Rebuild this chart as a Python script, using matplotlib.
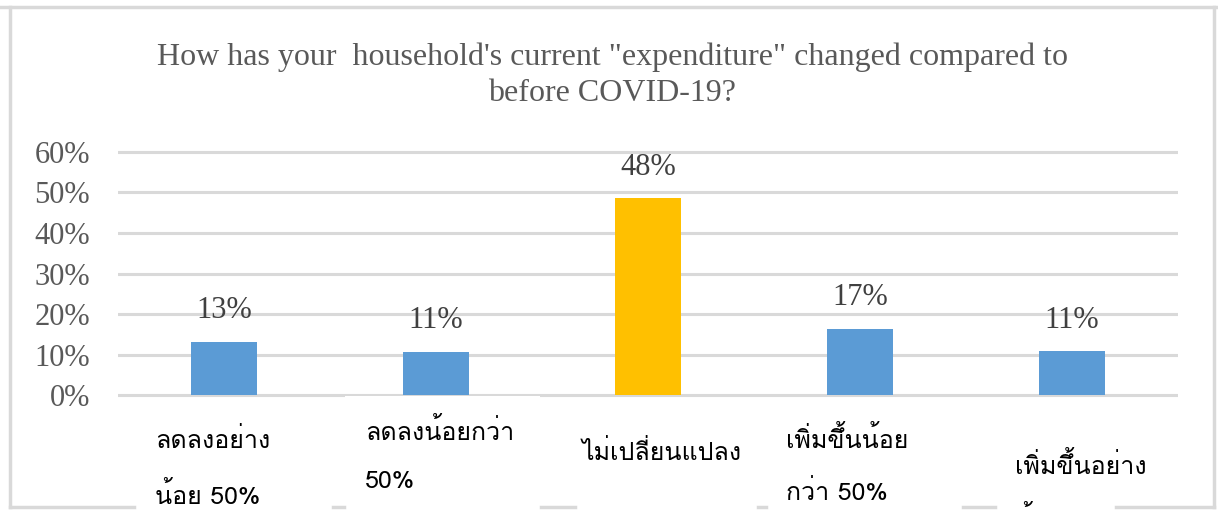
import matplotlib
matplotlib.use("Agg")
import matplotlib.pyplot as plt
from matplotlib.lines import Line2D
from matplotlib.patches import Rectangle

categories = ["ลดลงอย่าง\nน้อย 50%", "ลดลงน้อยกว่า\n50%", "ไม่เปลี่ยนแปลง",
              "เพิ่มขึ้นน้อย\nกว่า 50%", "เพิ่มขึ้นอย่าง\nน้อย 50%"]
values = [0.132, 0.107, 0.485, 0.163, 0.108]
value_labels = ["13%", "11%", "48%", "17%", "11%"]
bar_colors = ["#5B9BD5", "#5B9BD5", "#FFC000", "#5B9BD5", "#5B9BD5"]
yticks = [0, 0.1, 0.2, 0.3, 0.4, 0.5, 0.6]
ytick_labels = ["0%", "10%", "20%", "30%", "40%", "50%", "60%"]
title = "How has your  household's current \"expenditure\" changed compared to\nbefore COVID-19?"

W, H = 1218, 511
fig = plt.figure(figsize=(W / 100, H / 100), dpi=100)

def fx(px): return px / W
def fy(py): return 1 - py / H

pxu = 406.0
y0 = 395.3
ylo, yhi = -0.01, 0.61
ax = fig.add_axes([fx(118), fy(y0 + (0 - ylo) * pxu), fx(1178) - fx(118), (yhi - ylo) * pxu / H])
x = list(range(len(values)))
ax.bar(x, values, width=0.316, color=bar_colors, zorder=3)
ax.set_xlim(-0.5, 4.5)
ax.set_ylim(ylo, yhi)
ax.set_yticks(yticks)
ax.set_yticklabels(ytick_labels, family="Liberation Serif", fontsize=22, color="#595959")
ax.tick_params(axis="y", length=0, pad=20)
ax.set_xticks([])
for s in ax.spines.values():
    s.set_visible(False)
ax.grid(axis="y", color="#D9D9D9", linewidth=2.2, zorder=0)
for xi, v, lab in zip(x, values, value_labels):
    ax.annotate(lab, (xi, v), xytext=(0, 22.5), textcoords="offset points",
                ha="center", va="center", family="Liberation Serif", fontsize=22, color="#404040")

fig.text(fx(612), fy(75), title, ha="center", va="center", family="Liberation Serif",
         fontsize=23, color="#595959", linespacing=1.33)

# white patch from pasted label box covering the lower half of the baseline
fig.add_artist(Rectangle((fx(345), fy(401)), fx(540) - fx(345), (401 - 396) / H,
                         facecolor="white", edgecolor="none", zorder=5))

fam = ["Loma", "Noto Sans Thai", "DejaVu Sans"]
lab_pos = [(155, 440, 495), (365, 432, 482), (582, 452, None), (786, 440, 492), (1015, 465, 520)]
for cat, (lx, l1, l2) in zip(categories, lab_pos):
    parts = cat.split("\n")
    fig.text(fx(lx), fy(l1), parts[0], ha="left", va="center", family=fam, fontsize=18, color="#000000")
    if l2 is not None and len(parts) > 1:
        fig.text(fx(lx), fy(l2), parts[1], ha="left", va="center", family=fam, fontsize=18, color="#000000")

fc = "#D9D9D9"
lw = 2.5
fig.add_artist(Line2D([fx(0), fx(1216)], [fy(7), fy(7)], color=fc, lw=lw))
fig.add_artist(Line2D([fx(10), fx(10)], [fy(7), fy(507)], color=fc, lw=lw))
fig.add_artist(Line2D([fx(1214), fx(1214)], [fy(7), fy(507)], color=fc, lw=lw))
for a, b in [(10, 134), (333, 344), (541, 575), (758, 766), (963, 995), (1116, 1214)]:
    fig.add_artist(Line2D([fx(a), fx(b)], [fy(507), fy(507)], color=fc, lw=lw))

fig.savefig("out.png", dpi=100)
